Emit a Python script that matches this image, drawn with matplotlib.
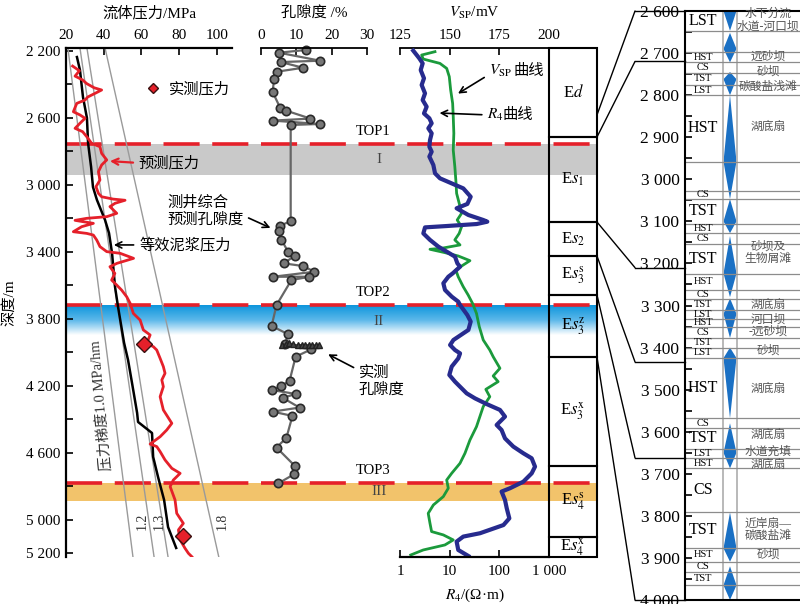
import matplotlib
matplotlib.use("Agg")
import matplotlib.pyplot as plt
import numpy as np
from matplotlib.colors import LinearSegmentedColormap
from matplotlib.patches import Polygon, Rectangle, ConnectionPatch
from matplotlib.lines import Line2D
from matplotlib.ticker import FuncFormatter, NullLocator

plt.rcParams['font.family'] = ['Liberation Serif', 'Noto Sans CJK SC']
plt.rcParams['mathtext.fontset'] = 'stix'
plt.rcParams['axes.unicode_minus'] = False

# ---------------- data ----------------
# depth range of the three log panels (m)
DTOP, DBOT = 2182, 5224

# predicted pressure (red curve)
pred_depth = [2290, 2318, 2350, 2373, 2395, 2420, 2433, 2453, 2475, 2493, 2513, 2563, 2582,
              2602, 2632, 2662, 2682, 2712, 2752, 2772, 2812, 2851, 2881, 2921, 2971, 3011,
              3051, 3071, 3085, 3092, 3110, 3130, 3170, 3190, 3200, 3212, 3230, 3250, 3280,
              3290, 3300, 3330, 3369, 3399, 3409, 3439, 3469, 3489, 3529, 3569, 3599, 3629,
              3669, 3708, 3768, 3808, 3867, 3897, 3947, 3967, 3987, 4037, 4086, 4126, 4166,
              4206, 4266, 4345, 4425, 4465, 4505, 4549, 4564, 4594, 4644, 4694, 4724, 4764,
              4803, 4883, 4963, 5023, 5062, 5122, 5172, 5202, 5222]
pred_p = [23.5, 27.1, 24.8, 28.8, 31.0, 35.0, 38.9, 35.4, 31.5, 30.1, 25.7, 23.9, 27.4,
          30.1, 27.4, 24.8, 28.8, 31.0, 33.6, 38.0, 38.9, 41.6, 38.9, 37.2, 38.0, 35.9,
          37.2, 38.9, 45.0, 51.3, 46.0, 43.3, 46.9, 41.6, 31.0, 24.8, 34.5, 28.3, 23.9,
          31.0, 34.5, 36.3, 38.0, 41.6, 48.7, 55.8, 47.0, 43.3, 45.9, 44.2, 46.9, 49.5,
          52.2, 54.0, 55.7, 59.3, 61.0, 64.6, 62.8, 66.3, 68.1, 69.9, 71.6, 72.5, 70.8,
          71.6, 69.9, 71.6, 76.1, 73.4, 69.9, 64.6, 68.1, 69.9, 72.5, 76.1, 80.5, 76.9,
          75.2, 77.8, 78.7, 82.2, 79.6, 80.5, 83.1, 84.9, 86.7]

# equivalent mud pressure (black curve)
mud_depth = [2236, 2314, 2475, 2600, 2750, 2893, 3013, 3090, 3210, 3288, 3407, 3610, 3730,
             3945, 4047, 4184, 4363, 4417, 4483, 4626, 4746, 4883, 5045, 5170]
mud_p = [25.8, 27.4, 29.0, 31.1, 31.7, 33.3, 34.3, 36.4, 40.7, 42.8, 44.4, 46.0, 47.6,
         50.8, 52.9, 55.0, 57.7, 58.2, 65.6, 66.2, 68.8, 72.0, 74.1, 78.4]

# measured pressure
meas_depth = [3951, 5096]
meas_p = [61.4, 81.9]

# pressure gradient lines (MPa at top / bottom of panel)
grad_labels = ['1.0', '1.2', '1.3', '1.8']
grad_p_top = [21.0, 27.4, 31.1, 40.7]
grad_p_bot = [55.5, 66.7, 74.1, 101.0]

# log-derived porosity
por_depth = [2194, 2210, 2258, 2266, 2300, 2324, 2367, 2445, 2543, 2557, 2604, 2616, 2636,
             2642, 3216, 3246, 3276, 3329, 3401, 3425, 3469, 3485, 3519, 3549, 3549, 3569,
             3718, 3843, 3893, 3953, 3983, 4027, 4170, 4202, 4226, 4250, 4272, 4331, 4355,
             4381, 4511, 4570, 4678, 4730, 4784]
por_val = [12.6, 5.1, 16.7, 5.6, 11.9, 4.4, 3.7, 3.3, 5.5, 7.2, 14.0, 3.3, 16.7,
           8.4, 8.4, 5.3, 5.1, 5.8, 7.7, 9.5, 6.4, 11.9, 15.1, 3.5, 13.7, 8.6,
           4.4, 3.0, 7.7, 6.7, 14.2, 9.8, 8.1, 5.8, 3.0, 10.0, 6.1, 10.9, 3.3,
           8.9, 7.2, 4.4, 9.5, 9.3, 4.9]

# measured (core) porosity
core_depth = [3955, 3950, 3948, 3952, 3958, 3955, 3957, 3956, 3958, 3957, 3958]
core_por = [6.0, 7.0, 8.0, 9.0, 10.5, 11.5, 12.5, 13.5, 14.5, 15.5, 16.5]

# R4 resistivity (ohm.m)
r4_depth = [2198, 2244, 2274, 2314, 2363, 2403, 2453, 2493, 2533, 2573, 2602, 2632, 2662,
            2692, 2732, 2772, 2802, 2831, 2881, 2931, 2961, 2987, 3021, 3071, 3114, 3140,
            3180, 3210, 3220, 3234, 3246, 3254, 3290, 3329, 3369, 3399, 3429, 3469, 3489,
            3529, 3549, 3588, 3628, 3668, 3698, 3718, 3778, 3817, 3867, 3927, 3957, 3987,
            4007, 4037, 4086, 4136, 4176, 4246, 4276, 4310, 4345, 4385, 4415, 4435, 4465,
            4515, 4564, 4604, 4634, 4684, 4724, 4774, 4813, 4833, 4883, 4933, 4993, 5033,
            5082, 5102, 5132, 5182, 5218]
r4_val = [1.85, 2.45, 2.86, 2.61, 3.04, 2.73, 3.19, 2.86, 3.44, 3.04, 3.90, 4.34, 3.72,
          4.34, 4.02, 3.90, 4.34, 3.90, 4.69, 5.07, 6.39, 10.2, 18.8, 26.5, 22.7, 13.8,
          23.8, 47.6, 57.3, 35.0, 8.70, 3.19, 2.95, 4.02, 5.91, 8.70, 12.8, 14.3, 16.2,
          11.5, 9.40, 7.46, 8.05, 11.0, 14.9, 16.2, 22.7, 26.5, 23.8, 11.9, 10.2, 12.8,
          16.2, 14.9, 11.0, 9.84, 12.8, 22.0, 32.4, 55.6, 103, 130, 103, 88.3, 111,
          130, 191, 304, 448, 523, 448, 304, 164, 111, 130, 141, 159, 121,
          40.8, 18.8, 13.8, 14.9, 23.8]

# spontaneous potential (mV)
vsp_depth = [2204, 2224, 2248, 2274, 2304, 2353, 2433, 2513, 2592, 2692, 2792, 2891, 2971,
             3051, 3110, 3170, 3210, 3250, 3290, 3329, 3359, 3379, 3385, 3405, 3425, 3453,
             3479, 3509, 3549, 3608, 3658, 3708, 3768, 3847, 3927, 3987, 4027, 4096, 4142,
             4176, 4222, 4266, 4325, 4385, 4445, 4525, 4604, 4664, 4724, 4764, 4813, 4863,
             4913, 4963, 5023, 5072, 5092, 5122, 5152, 5182, 5212]
vsp_val = [142.6, 135.9, 136.7, 145.1, 148.5, 149.8, 150.5, 151.5, 151.8, 152.1, 151.8, 152.6,
           153.1, 153.5, 154.8, 156.0, 153.8, 156.0, 154.8, 152.6, 155.2, 145.9, 140.1, 147.6,
           154.3, 160.2, 156.8, 153.1, 154.3, 156.8, 159.3, 161.5, 163.5, 164.9, 166.9, 170.2,
           171.9, 175.3, 171.9, 174.4, 168.2, 170.2, 166.9, 165.2, 163.5, 160.2, 157.7, 155.2,
           151.0, 148.5, 149.3, 146.8, 141.8, 139.2, 140.1, 140.9, 146.8, 151.8, 147.6, 136.7,
           130.4]

# marker horizons and pressure zones
top_depths = [2756, 3718, 4782]
top_names = ['TOP1', 'TOP2', 'TOP3']
zone_I = (2756, 2941)
zone_II = (3718, 3897)
zone_III = (4782, 4889)

# stratigraphic units
strata_names = [r'E$d$', r'E$s_1$', r'E$s_2$', r'E$s_3^{\rm s}$', r'E$s_3^{\rm z}$',
                r'E$s_3^{\rm x}$', r'E$s_4^{\rm s}$', r'E$s_4^{\rm x}$']
strata_bounds = [2182, 2714, 3222, 3425, 3658, 4029, 4680, 5104, 5224]

# tie lines between the logs and the sequence column
tie_left = [2582, 2714, 3222, 3425, 3658, 4029]
tie_right = [2600, 2720, 3210, 3434, 3662, 4000]

# systems tracts (far right column)
tract_bounds = [2600, 2647, 2697, 2722, 2747, 2776, 2800, 2958, 3027, 3047, 3106, 3128, 3154,
                3224, 3263, 3285, 3311, 3331, 3352, 3377, 3400, 3425, 3568, 3592, 3640, 3663,
                3687, 3792, 3877, 3909, 3933, 3965, 4000]
tract_names = ['LST', '', 'HST', 'CS', 'TST', 'LST', 'HST', '', 'CS', 'TST', 'HST', 'CS',
               'TST', 'HST', 'CS', 'TST', 'LST', 'HST', 'CS', 'TST', 'LST', 'HST', 'CS', 'TST',
               'LST', 'HST', 'CS', 'TST', 'HST', 'CS', 'TST', '']

# cycle diamonds (top, widest, bottom)
dia_top = [2600, 2652, 2745, 2800, 3047, 3135, 3283, 3400, 3580, 3792, 3920]
dia_mid = [2600, 2690, 2762, 2958, 3100, 3224, 3320, 3425, 3650, 3877, 3965]
dia_bot = [2647, 2722, 2800, 3047, 3128, 3280, 3377, 3568, 3687, 3909, 4000]

# sedimentary facies
facies_depth = [2622, 2709, 2745, 2781, 2875, 3175, 3299, 3349, 3407, 3498, 3608, 3647,
                3679, 3834, 3893]
facies_text = ['水下分流\n水道-河口坝', '远砂坝', '砂坝', '碳酸盐浅滩', '湖底扇', '砂坝及\n生物屑滩',
               '湖底扇', '河口坝\n-远砂坝', '砂坝', '湖底扇', '湖底扇', '水道充填', '湖底扇',
               '近岸扇—\n碳酸盐滩', '砂坝']

# ---------------- figure ----------------
W, H = 800, 604
fig = plt.figure(figsize=(W / 100, H / 100), dpi=100)


def add_ax(x0, y0, x1, y1):
    ax = fig.add_axes([x0 / W, 1 - y1 / H, (x1 - x0) / W, (y1 - y0) / H])
    ax.patch.set_visible(False)
    return ax


def depth_fmt(v, pos=None):
    v = int(round(v))
    return f"{v // 1000} {v % 1000:03d}"


RED = '#e5202a'
ARROW = dict(arrowstyle='->', color='k', lw=1.2)

# background: zones and marker horizons
ax_bg = add_ax(66, 48, 597, 557)
ax_bg.axhspan(*zone_I, color='#c9c9c9', lw=0)
blue = LinearSegmentedColormap.from_list('bl', ['#0d95dc', '#5cb8ea', '#ffffff'])
ax_bg.imshow(np.linspace(0, 1, 256).reshape(-1, 1), cmap=blue, aspect='auto',
             extent=(0, 1, zone_II[1], zone_II[0]), origin='upper')
ax_bg.axhspan(*zone_III, color='#f2c36b', lw=0)
for d, name in zip(top_depths, top_names):
    ax_bg.axhline(d, color=RED, lw=2.6, dashes=(10, 3.5))
    ax_bg.annotate(name, xy=(0.578, d), xytext=(0, 4), textcoords='offset points',
                   ha='center', va='bottom', fontsize=10.5)
for zone, lab in zip([zone_I, zone_II, zone_III], ['I', 'II', 'III']):
    yy = (zone[0] + zone[1]) / 2 if lab != 'II' else zone[0] + 0.55 * (zone[1] - zone[0])
    ax_bg.text(0.589, yy, lab, ha='center', va='center', fontsize=11, color='#444444')
ax_bg.set_xlim(0, 1)
ax_bg.set_ylim(DBOT, DTOP)
ax_bg.axis('off')

# ---- pressure panel ----
ax_p = add_ax(66, 48, 232, 557)
for pt, pb in zip(grad_p_top, grad_p_bot):
    ax_p.plot([pt, pb], [DTOP, DBOT], color='#9a9a9a', lw=1)
ax_p.plot(mud_p, mud_depth, color='k', lw=1.8)
ax_p.plot(pred_p, pred_depth, color=RED, lw=2)
ax_p.plot(meas_p, meas_depth, ls='none', marker='D', ms=8, mfc=RED, mec='#3a1010', mew=1)
ax_p.set_xlim(20, 108)
ax_p.set_ylim(DBOT, DTOP)
ax_p.xaxis.tick_top()
ax_p.xaxis.set_label_position('top')
ax_p.set_xticks([20, 40, 60, 80, 100])
ax_p.set_yticks([2200, 2600, 3000, 3400, 3800, 4200, 4600, 5000, 5200])
ax_p.set_yticks([2400, 2800, 3200, 3600, 4000, 4400, 4800], minor=True)
ax_p.yaxis.set_major_formatter(FuncFormatter(depth_fmt))
ax_p.tick_params(axis='both', which='both', direction='in', length=5, width=1.2,
                 labelsize=11, pad=4)
for s in ['right', 'bottom']:
    ax_p.spines[s].set_visible(False)
for s in ['left', 'top']:
    ax_p.spines[s].set_linewidth(1.6)
ax_p.set_xlabel('流体压力/MPa', fontsize=11, labelpad=9)
ax_p.set_ylabel('深度/m', fontsize=11)
ax_p.yaxis.set_label_coords(-0.30, 0.5)

ax_p.legend(handles=[Line2D([], [], ls='none', marker='D', ms=5.5, mfc=RED, mec='#3a1010')],
            labels=['实测压力'], loc='center left', bbox_to_anchor=(0.49, 0.919),
            frameon=False, handlelength=0.8, handletextpad=0.6, fontsize=11,
            borderaxespad=0, borderpad=0)
ax_p.text(39.1, 4316, '压力梯度1.0 MPa/hm', rotation=95, ha='center', va='center',
          fontsize=10.5, color='#333333')
for lab, x in zip(grad_labels[1:], [60.3, 69.3, 102.8]):
    ax_p.text(x, 5009, lab, rotation=90, ha='center', va='center', fontsize=10, color='#333333')
ax_p.annotate('预测压力', xy=(41.8, 2857), xytext=(58.5, 2869), fontsize=11, va='center',
              arrowprops=dict(arrowstyle='->', color=RED, lw=1.6, relpos=(0, 0.5)))
ax_p.annotate('等效泥浆压力', xy=(43.9, 3359), xytext=(58.8, 3359), fontsize=11, va='center',
              arrowprops=dict(ARROW, relpos=(0, 0.5)))

# ---- porosity panel ----
ax_f = add_ax(261, 48, 367, 557)
ax_f.plot(por_val, por_depth, color='#666666', lw=1.6, marker='o', ms=6,
          mfc='#777777', mec='#2a2a2a', mew=1.2, clip_on=False)
ax_f.plot(core_por, core_depth, color='#333333', lw=1, marker='^', ms=4,
          mfc='#444444', mec='#222222')
ax_f.set_xlim(0, 30)
ax_f.set_ylim(DBOT, DTOP)
ax_f.xaxis.tick_top()
ax_f.xaxis.set_label_position('top')
ax_f.set_xticks([0, 10, 20, 30])
ax_f.set_yticks([])
ax_f.tick_params(axis='x', direction='in', length=5, width=1.2, labelsize=11, pad=4)
for s in ['left', 'right', 'bottom']:
    ax_f.spines[s].set_visible(False)
ax_f.spines['top'].set_linewidth(1.3)
ax_f.set_xlabel('孔隙度 /%', fontsize=11, labelpad=9)
ax_f.annotate('测井综合\n预测孔隙度', xy=(3.4, 3264), xytext=(-26.6, 3156), fontsize=11,
              va='center', ha='left', annotation_clip=False,
              arrowprops=dict(ARROW, relpos=(1, 0.35)))
ax_f.annotate('实测\n孔隙度', xy=(18.3, 4005), xytext=(27.7, 4172), fontsize=11,
              va='center', ha='left', annotation_clip=False,
              arrowprops=dict(ARROW, relpos=(0, 0.85)))

# ---- Vsp / R4 panel ----
ax_v = add_ax(400, 48, 549, 557)
ax_r = ax_v.twiny()
ax_r.patch.set_visible(False)

ax_v.plot(vsp_val, vsp_depth, color='#1b9a3c', lw=2)
ax_v.set_xlim(125, 200)
ax_v.set_ylim(DBOT, DTOP)
ax_v.xaxis.set_ticks_position('top')
ax_v.xaxis.set_label_position('top')
ax_v.set_xticks([125, 150, 175, 200])
ax_v.set_yticks([])
ax_v.tick_params(axis='x', which='both', direction='in', length=5, width=1.2, labelsize=11,
                 pad=4, top=True, bottom=False, labeltop=True, labelbottom=False)
for s in ['left', 'right', 'bottom']:
    ax_v.spines[s].set_visible(False)
ax_v.spines['top'].set_linewidth(1.3)
ax_v.set_xlabel(r'$V_{\rm SP}$/mV', fontsize=11, labelpad=9)

ax_r.plot(r4_val, r4_depth, color='#272b8e', lw=3)
ax_r.set_xscale('log')
ax_r.set_xlim(1, 1000)
ax_r.set_ylim(DBOT, DTOP)
ax_r.set_xticks([1, 10, 100, 1000])
ax_r.set_xticklabels(['1', '10', '100', '1 000'])
ax_r.xaxis.set_minor_locator(NullLocator())
ax_r.tick_params(axis='x', direction='in', length=5, width=1.2, labelsize=11, pad=6,
                 top=False, bottom=True, labeltop=False, labelbottom=True)
ax_r.xaxis.set_label_position('bottom')
for s in ['left', 'right', 'top']:
    ax_r.spines[s].set_visible(False)
ax_r.spines['bottom'].set_visible(True)
ax_r.spines['bottom'].set_linewidth(1.6)
ax_r.set_xlabel(r'$R_4$/(Ω·m)', fontsize=11, labelpad=6)

# curve labels: math part and Chinese part drawn as separate texts
ax_v.annotate(r'$V_{\rm SP}$', xy=(153, 2463), xytext=(170, 2320), fontsize=11,
              va='center', ha='left', arrowprops=dict(ARROW, relpos=(0, 0.3)))
ax_v.annotate('曲线', xy=(170, 2320), xytext=(17, 0), textcoords='offset points',
              fontsize=11, va='center', ha='left')
ax_v.annotate(r'$R_4$', xy=(143.5, 2570), xytext=(169, 2582), fontsize=11,
              va='center', ha='left', arrowprops=dict(ARROW, relpos=(0, 0.5)))
ax_v.annotate('曲线', xy=(169, 2582), xytext=(11, 0), textcoords='offset points',
              fontsize=11, va='center', ha='left')

# ---- strata column ----
ax_s = add_ax(549, 48, 597, 557)
ax_s.set_xlim(0, 1)
ax_s.set_ylim(DBOT, DTOP)
ax_s.axis('off')
for name, t, b in zip(strata_names, strata_bounds[:-1], strata_bounds[1:]):
    ax_s.add_patch(Rectangle((0, t), 1, b - t, fill=False, ec='k', lw=1.5, clip_on=False))
    ax_s.text(0.5, (t + b) / 2, name, ha='center', va='center', fontsize=12)

# ---- sequence column ----
ax_q = fig.add_axes([685 / W, 1 - 600 / H, 115 / W, 589 / H])
ax_q.set_xlim(0, 115)
ax_q.set_ylim(4000, 2600)
ax_q.set_xticks([])
ax_q.set_yticks(np.arange(2600, 4001, 100))
ax_q.set_yticks(np.arange(2650, 4000, 100), minor=True)
ax_q.yaxis.set_major_formatter(FuncFormatter(depth_fmt))
ax_q.tick_params(axis='y', which='both', direction='in', length=5, width=1.2,
                 labelsize=12.5, pad=4)
ax_q.spines['right'].set_visible(False)
for s in ['left', 'top', 'bottom']:
    ax_q.spines[s].set_linewidth(1.5)
for xv in [38, 52]:
    ax_q.axvline(xv, color='#b3b3b3', lw=1.3)
for d in tract_bounds[1:-1]:
    ax_q.axhline(d, color='#8c8c8c', lw=0.9)
for name, t, b in zip(tract_names, tract_bounds[:-1], tract_bounds[1:]):
    if name:
        ax_q.text(18, (t + b) / 2, name, ha='center', va='center',
                  fontsize=11.5 if b - t >= 40 else 7.5)
for t, m, b in zip(dia_top, dia_mid, dia_bot):
    ax_q.add_patch(Polygon([(45, t), (38.5, m), (45, b), (51.5, m)], closed=True,
                           fc='#1a70c4', ec='none'))
for d, txt in zip(facies_depth, facies_text):
    ax_q.text(83, d, txt, ha='center', va='center', fontsize=8.5, color='#555555',
              linespacing=1.0)

# tie lines
for dl, dr in zip(tie_left, tie_right):
    fig.add_artist(ConnectionPatch(xyA=(1, dl), coordsA=ax_s.transData,
                                   xyB=(-50, dr), coordsB=ax_q.transData, color='k', lw=1))
    ax_q.plot([-50, 0], [dr, dr], color='k', lw=1, clip_on=False)

fig.savefig('out.png', dpi=100)
